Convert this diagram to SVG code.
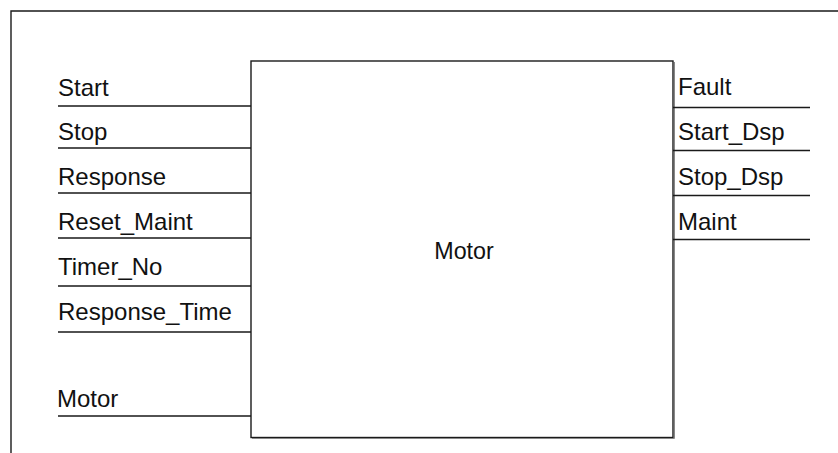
<svg xmlns="http://www.w3.org/2000/svg" width="838" height="453" viewBox="0 0 838 453">
<style>
.ln{stroke:#1a1a1a;stroke-width:1.4;fill:none}
.lbl{font-family:"Liberation Sans",Arial,sans-serif;font-size:24px;fill:#111}
.ttl{font-family:"Liberation Sans",Arial,sans-serif;font-size:23.3px;fill:#111}
</style>
<rect width="838" height="453" fill="#fff"/>
<g id="frame"><path class="ln" d="M11,453 V11 H838"/></g>
<g id="motor-block">
<rect x="251" y="61" width="422" height="376.5" fill="#fff" stroke="#1a1a1a" stroke-width="1.4"/>
<path d="M674.5,62 V438.5 H252" stroke="#888" stroke-width="1" fill="none"/>
<text class="ttl" x="464" y="258.5" text-anchor="middle">Motor</text>
</g>
<g id="connectors">
<path class="ln" d="M58,106 H251 M58,148 H251 M58,193 H251 M58,238 H251 M58,286 H251 M58,332 H251 M58,416 H251"/>
<path class="ln" d="M673,107.5 H810 M673,150.5 H810 M673,195.5 H810 M673,239.5 H810"/>
</g>
<g id="inputs">
<text class="lbl" x="58" y="95.5">Start</text>
<text class="lbl" x="58" y="140">Stop</text>
<text class="lbl" x="58" y="185">Response</text>
<text class="lbl" x="58" y="230">Reset_Maint</text>
<text class="lbl" x="58" y="275">Timer_No</text>
<text class="lbl" x="58" y="320">Response_Time</text>
<text class="lbl" x="57" y="407">Motor</text>
</g>
<g id="outputs">
<text class="lbl" x="678" y="95">Fault</text>
<text class="lbl" x="678" y="139.5">Start_Dsp</text>
<text class="lbl" x="678" y="184.5">Stop_Dsp</text>
<text class="lbl" x="678" y="230">Maint</text>
</g>
</svg>
